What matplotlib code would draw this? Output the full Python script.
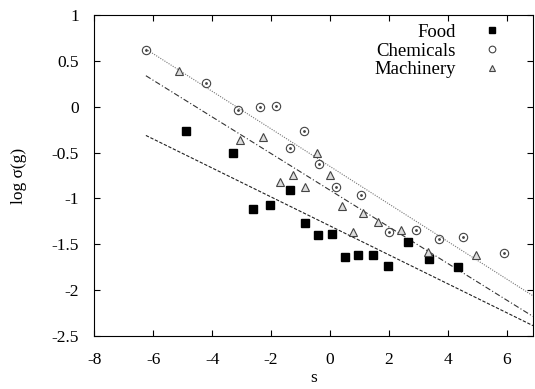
import numpy as np
import matplotlib
matplotlib.use('Agg')
import matplotlib.pyplot as plt

# ---- data ----
food_s = [-4.88, -3.29, -2.60, -2.03, -1.36, -0.83, -0.40, 0.06, 0.52, 0.97,
          1.47, 1.99, 2.67, 3.35, 4.36]
food_y = [-0.26, -0.50, -1.12, -1.07, -0.91, -1.27, -1.40, -1.39, -1.64, -1.62,
          -1.62, -1.74, -1.48, -1.66, -1.75]

chem_s = [-6.25, -4.21, -3.11, -2.38, -1.83, -1.36, -0.88, -0.36, 0.21, 1.06,
          2.01, 2.93, 3.70, 4.52, 5.92]
chem_y = [0.62, 0.26, -0.03, 0.00, 0.01, -0.45, -0.26, -0.62, -0.88, -0.96,
          -1.37, -1.35, -1.44, -1.42, -1.60]

mach_s = [-5.12, -3.05, -2.27, -1.69, -1.27, -0.86, -0.43, 0.01, 0.40, 0.77,
          1.12, 1.63, 2.40, 3.34, 4.98]
mach_y = [0.39, -0.36, -0.33, -0.82, -0.75, -0.88, -0.50, -0.75, -1.08, -1.37,
          -1.16, -1.26, -1.34, -1.59, -1.62]

# linear fits (intercept, slope)
fit_food = (-1.30, -0.158)
fit_chem = (-0.65, -0.205)
fit_mach = (-0.91, -0.200)
fit_range = (-6.25, 6.9)

plt.rcParams['font.family'] = ['Liberation Serif', 'DejaVu Serif']
plt.rcParams['font.size'] = 12.5
plt.rcParams['axes.unicode_minus'] = False

fig = plt.figure(figsize=(5.35, 3.89), dpi=100)
ax = fig.add_axes([0.1764, 0.137, 0.8199, 0.8237])

xs = np.linspace(fit_range[0], fit_range[1], 100)
ax.plot(xs, fit_chem[0] + fit_chem[1] * xs, color='#777777', lw=0.8,
        linestyle=(0, (1, 1.2)))
ax.plot(xs, fit_mach[0] + fit_mach[1] * xs, color='#333333', lw=0.8,
        linestyle=(0, (5, 2, 1, 2)))
ax.plot(xs, fit_food[0] + fit_food[1] * xs, color='#222222', lw=0.8,
        linestyle=(0, (3, 1.5)))

ax.plot(food_s, food_y, 's', color='black', ms=6, label='Food', clip_on=False)
ax.plot(chem_s, chem_y, 'o', mfc='none', mec='#444444', mew=0.8, ms=6,
        label='Chemicals', clip_on=False)
ax.plot(chem_s, chem_y, '.', color='#444444', ms=2)
ax.plot(mach_s, mach_y, '^', mfc='#dddddd', mec='#444444', mew=0.8, ms=5.5,
        label='Machinery', clip_on=False)

ax.set_xlim(-8, 6.9)
ax.set_ylim(-2.5, 1)
ax.set_xticks([-8, -6, -4, -2, 0, 2, 4, 6])
ax.set_yticks([-2.5, -2, -1.5, -1, -0.5, 0, 0.5, 1])
ax.set_yticklabels(['-2.5', '-2', '-1.5', '-1', '-0.5', '0', '0.5', '1'])
ax.tick_params(direction='in', top=True, right=True, length=4, width=0.8)
ax.tick_params(axis='y', pad=11)
ax.tick_params(axis='x', pad=12)
for sp in ax.spines.values():
    sp.set_linewidth(0.8)

ax.set_xlabel('s', labelpad=1)
ax.set_ylabel('log σ(g)', labelpad=18)

handles, labels = ax.get_legend_handles_labels()
ax.legend(handles[:3], labels[:3], loc='upper right', markerfirst=False,
          frameon=False, bbox_to_anchor=(0.946, 1.0), handlelength=1.0,
          handletextpad=1.4, labelspacing=0.09, borderaxespad=0.05,
          fontsize=13.5, markerscale=0.8)

fig.savefig('out.png', dpi=100)
